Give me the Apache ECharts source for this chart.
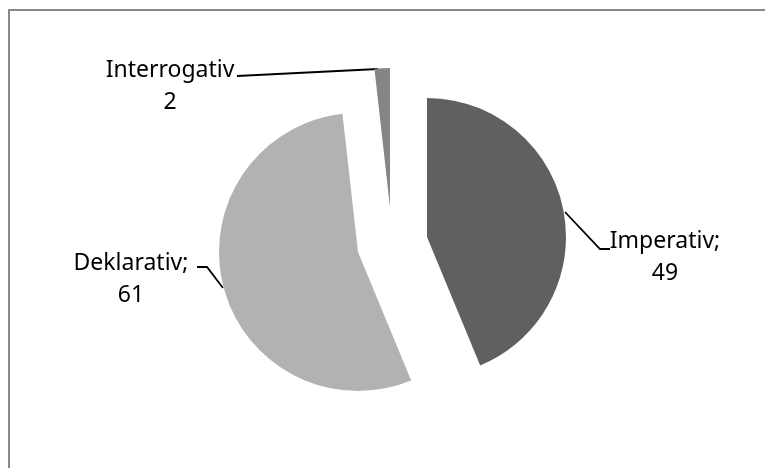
<!DOCTYPE html>
<html>
<head>
<meta charset="utf-8">
<script src="https://cdn.jsdelivr.net/npm/echarts@6/dist/echarts.min.js"></script>
<style>
  html, body { margin: 0; padding: 0; background: #fff; }
  #wrap { position: relative; width: 765px; height: 468px; overflow: hidden; }
  #frame { position: absolute; left: 8px; top: 9px; width: 900px; height: 600px;
           border-top: 2px solid #888; border-left: 2px solid #888; }
  #chart { position: absolute; left: 0; top: 0; width: 765px; height: 468px; }
</style>
</head>
<body>
<div id="wrap">
  <div id="frame"></div>
  <div id="chart"></div>
</div>
<script>
// Daten
const categories = ['Imperativ', 'Deklarativ', 'Interrogativ'];
const values = [49, 61, 2];
const separators = [';', ';', ''];
const colors = ['#606060', '#b2b2b2', '#858585'];

// jedes Segment ist einzeln herausgezogen (wie im Excel-Diagramm)
const sliceCenters = [[427, 237], [358, 252], [390, 207]];
const labelBoxes = [
    { x: 665, y: 257, line: [[565, 212], [600, 249], [610, 249]] },
    { x: 131, y: 279, line: [[223, 288], [207, 267], [197, 267]] },
    { x: 170, y: 86, line: [[378, 69], [237, 76]] }
];

const myChart = echarts.init(document.getElementById('chart'), null, { renderer: 'canvas' });

const series = categories.map((cat, k) => ({
    type: 'pie',
    radius: 139,
    center: sliceCenters[k],
    startAngle: 90,
    clockwise: true,
    silent: true,
    animation: false,
    emphasis: { disabled: true },
    label: {
        position: 'outside',
        fontFamily: 'Noto Sans',
        fontSize: 23,
        lineHeight: 32,
        color: '#000',
        align: 'center',
        formatter: p => p.name + separators[p.dataIndex] + '\n' + p.value
    },
    labelLine: { lineStyle: { color: '#000', width: 1.8 } },
    labelLayout: params => {
        const b = labelBoxes[k];
        return { x: b.x, y: b.y, align: 'center', verticalAlign: 'middle', labelLinePoints: b.line };
    },
    data: categories.map((name, i) => ({
        name: name,
        value: values[i],
        itemStyle: { color: i === k ? colors[i] : 'rgba(0,0,0,0)' },
        label: { show: i === k },
        labelLine: { show: i === k }
    }))
}));

myChart.setOption({
    backgroundColor: 'transparent',
    series: series
});
</script>
</body>
</html>
